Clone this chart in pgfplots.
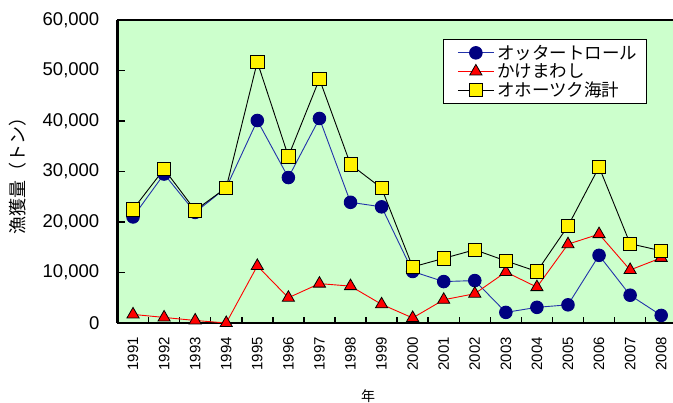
\documentclass[border=0pt]{standalone}
\usepackage{pgfplots}
\pgfplotsset{compat=1.18}
\usepackage{pgfplotstable}
\usepackage{fontspec}
\setmainfont{Liberation Sans}
\newfontfamily\jp{Noto Sans CJK JP}
\definecolor{bg}{HTML}{CCFFCC}
\definecolor{otter}{HTML}{000080}
\definecolor{otterline}{HTML}{2233AA}

% i: 0 = 1991 ... 17 = 2008
\pgfplotstableread{
i otter kake total
0 21000 1700 22500
1 29500 1100 30500
2 21900 500 22300
3 26800 0 26800
4 40100 11300 51700
5 28800 5000 33000
6 40500 7800 48300
7 23900 7300 31400
8 23000 3700 26700
9 10200 1000 11100
10 8200 4600 12800
11 8400 5800 14500
12 2100 10100 12300
13 3100 7100 10200
14 3600 15600 19200
15 13400 17600 30900
16 5500 10500 15700
17 1500 12900 14300
}\catch

\begin{document}
\begin{tikzpicture}
\begin{axis}[
    at={(0pt,0pt)}, anchor=south west,
    scale only axis, width=555.5pt, height=303pt,
    xmin=-0.5, xmax=17.38, ymin=0, ymax=60000,
    clip=false,
    axis background/.style={fill=bg},
    axis x line=bottom, axis y line=left,
    x axis line style={-, line width=2.5pt},
    y axis line style={-, line width=3pt},
    tick align=inside,
    xtick={0,...,17},
    xticklabels={1991,1992,1993,1994,1995,1996,1997,1998,1999,2000,2001,2002,2003,2004,2005,2006,2007,2008},
    major x tick style={draw=none},
    minor xtick={0.5,1.5,...,16.5},
    minor tick length=6pt,
    minor x tick style={black, line width=1.5pt},
    ytick={0,10000,...,60000},
    major tick length=8pt,
    major y tick style={black, line width=1.5pt},
    scaled y ticks=false,
    /pgf/number format/.cd, 1000 sep={,}, assume math mode=true, /pgfplots/.cd,
    yticklabel style={font=\fontsize{18.5}{20}\selectfont, inner xsep=0pt},
    yticklabel shift=18pt,
    xticklabel style={font=\fontsize{15}{17}\selectfont, rotate=90, anchor=east, inner sep=0pt},
    xticklabel shift=14pt,
    ylabel={\jp 漁獲量（トン）},
    ylabel style={font=\fontsize{18}{19}\selectfont, at={(axis description cs:-0.179,0.5)}, anchor=center},
    xlabel={\jp 年},
    xlabel style={font=\fontsize{14}{16}\selectfont, at={(axis description cs:0.451,-0.241)}, anchor=center},
    legend style={at={(0.586,0.937)}, anchor=north west, draw=black, line width=0.8pt, fill=white,
        font=\jp\fontsize{17.5}{19}\selectfont, inner xsep=6pt, inner ysep=4pt,
        row sep=0pt, nodes={inner xsep=3pt, inner ysep=1.5pt}, cells={anchor=west}},
    legend image code/.code={\path (-8pt,0pt);
        \draw[mark repeat=2,mark phase=2,#1] plot coordinates {(0pt,0pt) (18pt,0pt) (36pt,0pt)};},
]
\addplot[otterline, line width=0.9pt, mark=*, mark size=6.3pt,
    mark options={fill=otter, draw=otter}] table[x=i, y=otter] {\catch};
\addlegendentry{オッタートロール}
\addplot[red, line width=0.9pt, mark=triangle*, mark size=7pt,
    mark options={fill=red, draw=black, line width=0.8pt}] table[x=i, y=kake] {\catch};
\addlegendentry{かけまわし}
\addplot[black, line width=0.9pt, mark=square*, mark size=6.6pt,
    mark options={fill=yellow, draw=black, line width=0.8pt}] table[x=i, y=total] {\catch};
\addlegendentry{オホーツク海計}
\draw[line width=1.3pt] (rel axis cs:0,1) -- (rel axis cs:1,1);
\end{axis}
\pgfresetboundingbox
\useasboundingbox (-117.5pt,-80pt) rectangle (555.5pt,323pt);
\end{tikzpicture}
\end{document}
